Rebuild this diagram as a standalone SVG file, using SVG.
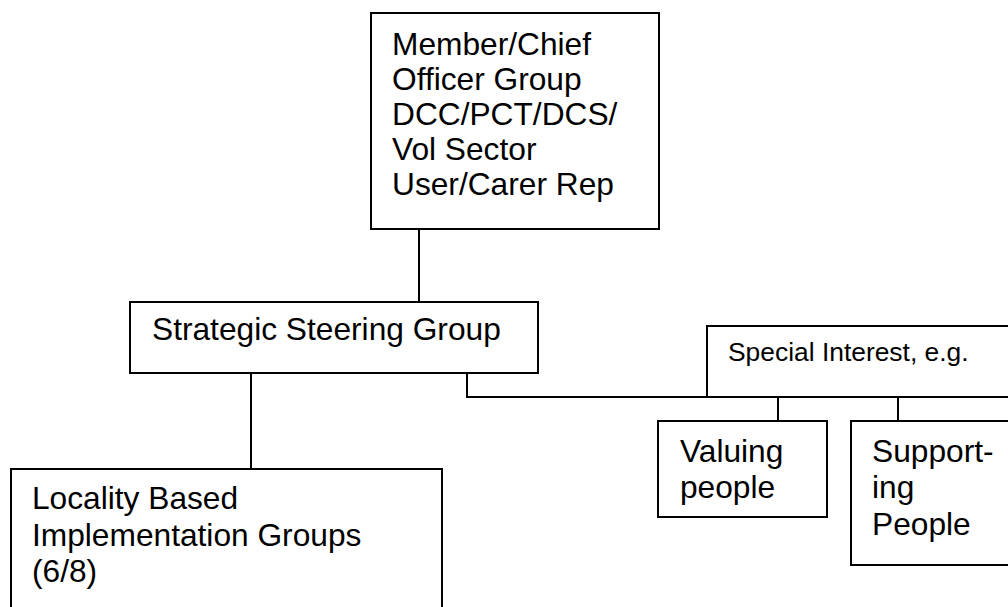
<svg xmlns="http://www.w3.org/2000/svg" width="1008" height="607" viewBox="0 0 1008 607">
<style>
.box{fill:#fff;stroke:#000;stroke-width:2}
.conn{fill:none;stroke:#000;stroke-width:2}
text{font-family:"Liberation Sans",Arial,sans-serif;fill:#000}
.big{font-size:31.7px}
.small{font-size:26.4px}
</style>
<rect width="1008" height="607" fill="#fff"/>
<g id="connectors">
<path class="conn" d="M419 229V302"/>
<path class="conn" d="M251 373V469"/>
<path class="conn" d="M467 373V397H707"/>
<path class="conn" d="M778 397V421"/>
<path class="conn" d="M898 397V421"/>
</g>
<g id="member-chief">
<rect class="box" x="371" y="13" width="288" height="216"/>
<text class="big" x="392"><tspan x="392" y="55">Member/Chief</tspan><tspan x="392" y="90">Officer Group</tspan><tspan x="392" y="125">DCC/PCT/DCS/</tspan><tspan x="392" y="160">Vol Sector</tspan><tspan x="392" y="195">User/Carer Rep</tspan></text>
</g>
<g id="strategic">
<rect class="box" x="130" y="302" width="408" height="71"/>
<text class="big" x="152" y="340">Strategic Steering Group</text>
</g>
<g id="special-interest">
<rect class="box" x="707" y="326" width="320" height="71"/>
<text class="small" x="728" y="361">Special Interest, e.g.</text>
</g>
<g id="valuing">
<rect class="box" x="658" y="421" width="169" height="96"/>
<text class="big"><tspan x="680" y="462">Valuing</tspan><tspan x="680" y="498">people</tspan></text>
</g>
<g id="supporting">
<rect class="box" x="851" y="421" width="180" height="144"/>
<text class="big"><tspan x="872" y="462">Support-</tspan><tspan x="872" y="498">ing</tspan><tspan x="872" y="535">People</tspan></text>
</g>
<g id="locality">
<rect class="box" x="11" y="469" width="431" height="160"/>
<text class="big"><tspan x="32" y="509">Locality Based</tspan><tspan x="32" y="546">Implementation Groups</tspan><tspan x="32" y="582">(6/8)</tspan></text>
</g>
</svg>
